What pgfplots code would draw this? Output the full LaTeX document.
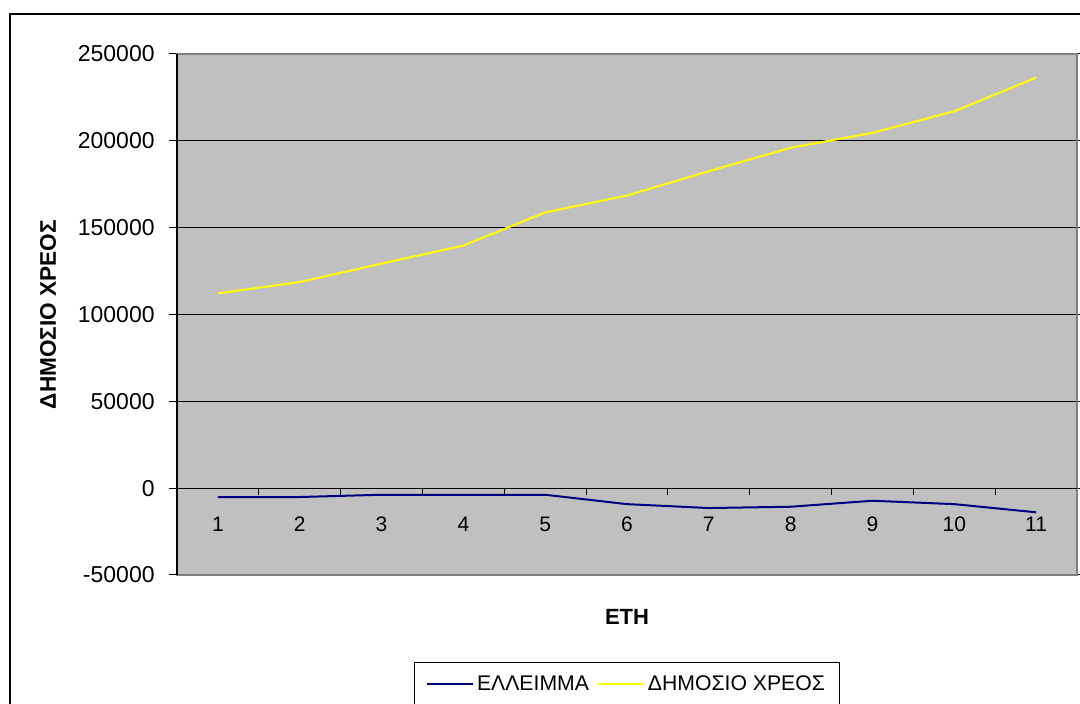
\documentclass[border=0pt]{standalone}
\usepackage{fontspec}
\setmainfont{Liberation Sans}
\usepackage{pgfplots}
\pgfplotsset{compat=1.18}
\definecolor{plotgray}{HTML}{C0C0C0}
\definecolor{bordergray}{HTML}{808080}
\definecolor{navy}{HTML}{000080}
\definecolor{xlyellow}{HTML}{FFFF00}

\begin{document}
\begin{tikzpicture}
\useasboundingbox (-88.5pt,-64.5pt) rectangle (451.5pt,287.5pt);
% outer chart frame (cut off at right and bottom as in the screenshot)
\draw[line width=1pt] (-83.6pt,280.3pt) rectangle (480pt,-90pt);
\begin{axis}[
    at={(0,0)}, anchor=south west,
    scale only axis,
    width=450pt, height=260.5pt,
    xmin=0.5, xmax=11.5,
    ymin=-50000, ymax=250000,
    xtick={1,2,3,4,5,6,7,8,9,10,11},
    xticklabels={1,2,3,4,5,6,7,8,9,10,11},
    ytick={-50000,0,50000,100000,150000,200000,250000},
    yticklabels={-50000,0,50000,100000,150000,200000,250000},
    scaled y ticks=false,
    axis background/.style={fill=plotgray},
    axis line style={bordergray, line width=0.8pt},
    ymajorgrids=true,
    grid style={black, line width=0.5pt},
    tick align=outside,
    major tick length=4pt,
    major x tick style={draw=none},
    major y tick style={black, line width=0.5pt},
    yticklabel style={font=\fontsize{11.5}{13}\selectfont, anchor=east, inner sep=0pt, xshift=-7pt},
    xticklabel style={font=\fontsize{10.5}{12}\selectfont, anchor=center, inner sep=0pt, yshift=29.5pt},
    legend style={
        at={(axis description cs:0.5,0)}, anchor=north, yshift=-43.5pt,
        draw=black, line width=0.5pt, fill=white,
        inner xsep=5.8pt, inner ysep=5.45pt,
        font=\fontsize{10.6}{12}\selectfont,
        nodes={inner xsep=1.5pt, inner ysep=1.25pt, text depth=1pt},
        /tikz/every even column/.append style={column sep=2.5pt},
    },
    legend columns=2,
    legend image code/.code={\draw[#1] (0pt,0pt) -- (23pt,0pt);},
    clip=false,
]
\addplot[navy, line width=1pt] coordinates {
    (1,-5150) (2,-5100) (3,-3800) (4,-3800) (5,-3800) (6,-9200)
    (7,-11450) (8,-10700) (9,-7250) (10,-9200) (11,-13900)
};
\addlegendentry{ΕΛΛΕΙΜΜΑ}
\addplot[xlyellow, line width=1pt] coordinates {
    (1,112200) (2,118700) (3,129300) (4,139700) (5,158800) (6,168500)
    (7,182500) (8,196000) (9,204600) (10,217000) (11,236400)
};
\addlegendentry{ΔΗΜΟΣΙΟ ΧΡΕΟΣ}

% category axis crossing at zero, with ticks between the categories
\draw[black, line width=0.6pt] (axis cs:0.5,0) -- (axis cs:11.5,0);
\pgfplotsinvokeforeach{1.5,2.5,3.5,4.5,5.5,6.5,7.5,8.5,9.5,10.5}{
    \draw[black, line width=0.5pt] (axis cs:#1,0) -- ++(0pt,-3.5pt);
}
% value axis
\draw[black, line width=0.6pt] (rel axis cs:0,0) -- (rel axis cs:0,1);

\node[font=\bfseries\fontsize{11.3}{13}\selectfont, rotate=90]
    at ([xshift=-64.4pt]rel axis cs:0,0.5) {ΔΗΜΟΣΙΟ ΧΡΕΟΣ};
\node[font=\bfseries\fontsize{11}{13}\selectfont]
    at ([yshift=-20.8pt]rel axis cs:0.5,0) {ΕΤΗ};
\end{axis}
\end{tikzpicture}
\end{document}
